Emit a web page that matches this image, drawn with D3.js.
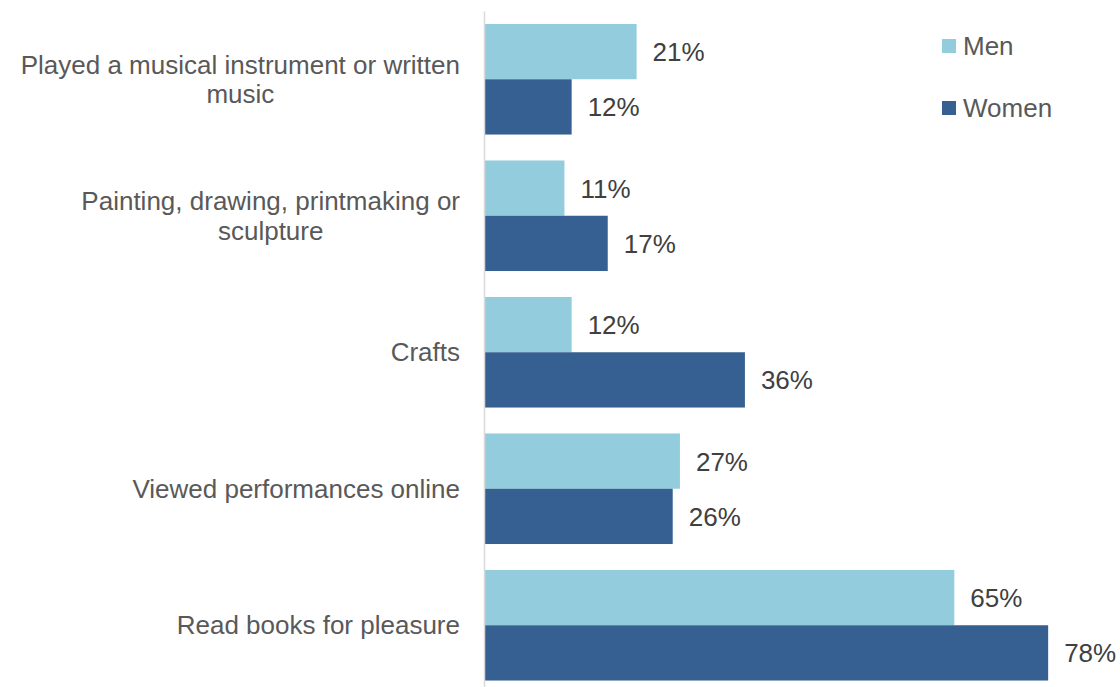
<!DOCTYPE html>
<html>
<head>
<meta charset="utf-8">
<script src="https://cdn.jsdelivr.net/npm/d3@7"></script>
<style>
  html, body { margin: 0; padding: 0; background: #fff; }
  svg { display: block; font-family: "Liberation Sans", Arial, sans-serif; }
</style>
</head>
<body>
<svg id="chart" width="1120" height="687"></svg>
<script>
const categories = [
  "Played a musical instrument or written music",
  "Painting, drawing, printmaking or sculpture",
  "Crafts",
  "Viewed performances online",
  "Read books for pleasure"
];
const seriesNames = ["Men", "Women"];
const menValues = [21, 11, 12, 27, 65];
const womenValues = [12, 17, 36, 26, 78];
const colors = ["#93CDDD", "#366092"];

const data = categories.map((c, i) => ({ category: c, values: [menValues[i], womenValues[i]] }));

const svg = d3.select("#chart");

const x = d3.scaleLinear().domain([0, 80]).range([485, 1062.6]);
const y0 = d3.scaleBand().domain(categories).range([11, 693.5]).paddingInner(0.19).paddingOuter(0.095);
const y1 = d3.scaleBand().domain(seriesNames).range([0, y0.bandwidth()]).padding(0);

// bars
const groups = svg.append("g").selectAll("g").data(data).join("g")
  .attr("transform", d => `translate(0,${y0(d.category)})`);

groups.selectAll("rect").data(d => d.values.map((v, i) => ({ s: seriesNames[i], v, i })))
  .join("rect")
  .attr("x", x(0))
  .attr("y", d => y1(d.s))
  .attr("width", d => x(d.v) - x(0))
  .attr("height", y1.bandwidth())
  .attr("fill", d => colors[d.i]);

groups.selectAll("text.val").data(d => d.values.map((v, i) => ({ s: seriesNames[i], v, i })))
  .join("text")
  .attr("class", "val")
  .attr("x", d => x(d.v) + 16)
  .attr("y", d => y1(d.s) + y1.bandwidth() / 2)
  .attr("dy", "0.37em")
  .attr("font-size", 26)
  .attr("fill", "#404040")
  .text(d => d.v + "%");

// axis
const axis = svg.append("g")
  .attr("transform", `translate(${x(0) - 1},0)`)
  .call(d3.axisLeft(y0).tickSize(0).tickPadding(24));
axis.select(".domain").attr("stroke", "#D9D9D9").attr("stroke-width", 1.5);
axis.selectAll(".tick text")
  .attr("font-size", 26)
  .attr("fill", "#595959")
  .attr("font-family", "'Liberation Sans', Arial, sans-serif")
  .each(function() { wrap(d3.select(this), 450); });

function wrap(text, width) {
  const words = text.text().split(/\s+/);
  const xPos = +text.attr("x");
  text.text(null);
  const lines = [];
  let line = [];
  const tmp = text.append("tspan");
  words.forEach(w => {
    line.push(w);
    tmp.text(line.join(" "));
    if (tmp.node().getComputedTextLength() > width && line.length > 1) {
      line.pop();
      lines.push(line.join(" "));
      line = [w];
    }
  });
  lines.push(line.join(" "));
  // measure widest line
  let maxW = 0;
  lines.forEach(l => { tmp.text(l); maxW = Math.max(maxW, tmp.node().getComputedTextLength()); });
  tmp.remove();
  const lh = 29.5;
  const start = -(lines.length - 1) * lh / 2;
  const cx = xPos - maxW / 2;
  text.attr("text-anchor", "middle");
  lines.forEach((l, i) => {
    text.append("tspan")
      .attr("x", cx)
      .attr("y", start + i * lh)
      .attr("dy", "0.35em")
      .text(l);
  });
}

// legend
const legend = svg.append("g").selectAll("g").data(seriesNames).join("g")
  .attr("transform", (d, i) => `translate(942,${39 + i * 62})`);
legend.append("rect").attr("width", 14).attr("height", 14).attr("fill", (d, i) => colors[i]);
legend.append("text")
  .attr("x", 21).attr("y", 7).attr("dy", "0.35em")
  .attr("font-size", 26).attr("fill", "#595959")
  .text(d => d);
</script>
</body>
</html>
